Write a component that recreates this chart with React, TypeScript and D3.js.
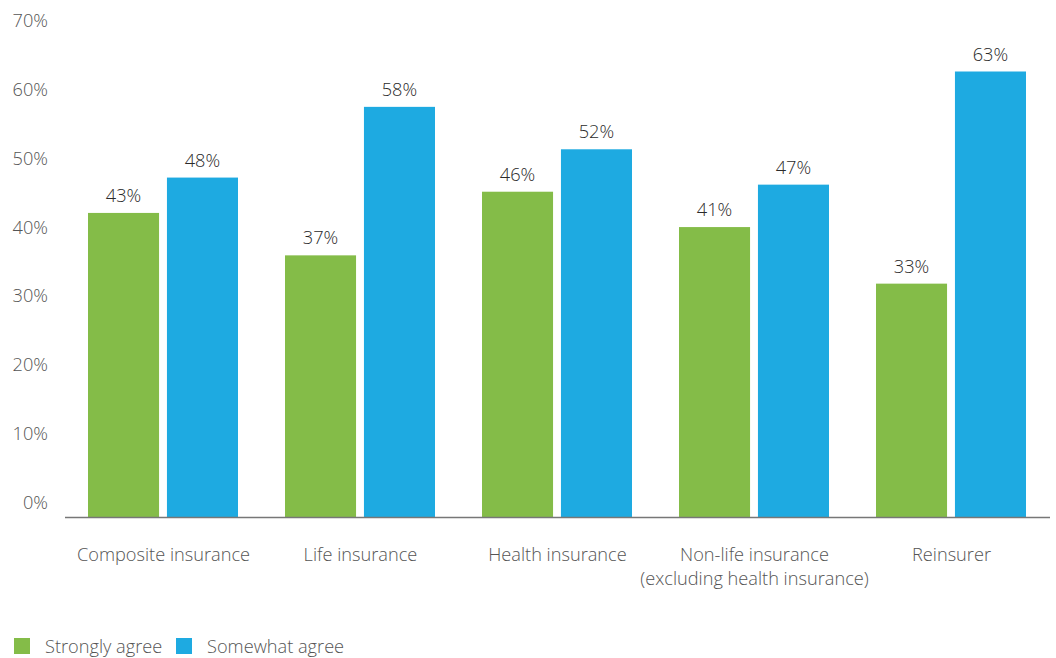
import React from "react";
import * as d3 from "d3";

const categories: string[][] = [
  ["Composite insurance"],
  ["Life insurance"],
  ["Health insurance"],
  ["Non-life insurance", "(excluding health insurance)"],
  ["Reinsurer"],
];
const seriesNames = ["Strongly agree", "Somewhat agree"];
const stronglyAgree = [43, 37, 46, 41, 33];
const somewhatAgree = [48, 58, 52, 47, 63];
const yTicks = [0, 10, 20, 30, 40, 50, 60, 70];
const colors = ["#84bc48", "#1eaae1"];

const W = 1056;
const H = 658;
const FONT = "'Open Sans', 'Noto Sans', sans-serif";
const FS = 18.2;

export default function App() {
  const x0 = d3
    .scaleBand<number>()
    .domain(categories.map((_, i) => i))
    .range([65, 1050])
    .paddingInner(0)
    .paddingOuter(0);
  const x1 = d3
    .scaleBand<number>()
    .domain([0, 1])
    .range([23, x0.bandwidth() - 24])
    .paddingInner(0.1);
  const y = d3.scaleLinear().domain([0, 70]).range([517, 22]);
  const yLabel = d3.scaleLinear().domain([0, 70]).range([502, 20]);
  const series = [stronglyAgree, somewhatAgree];

  return (
    <svg
      width={W}
      height={H}
      style={{ position: "absolute", left: 0, top: 0, background: "#fff" }}
      fontFamily={FONT}
      fontWeight={300}
    >
      {yTicks.map((t) => (
        <text
          key={t}
          x={48}
          y={yLabel(t)}
          textAnchor="end"
          dominantBaseline="central"
          fontSize={FS}
          fill="#555"
        >
          {t}%
        </text>
      ))}
      {categories.map((cat, i) => (
        <g key={i} transform={`translate(${x0(i)},0)`}>
          {series.map((s, j) => (
            <g key={j}>
              <rect
                x={x1(j)}
                y={y(s[i])}
                width={x1.bandwidth()}
                height={y(0) - y(s[i])}
                fill={colors[j]}
              />
              <text
                x={(x1(j) as number) + x1.bandwidth() / 2}
                y={y(s[i]) - 11}
                textAnchor="middle"
                fontSize={FS}
                fill="#2a2a2a"
              >
                {s[i]}%
              </text>
            </g>
          ))}
          {cat.map((line, k) => (
            <text
              key={k}
              x={x0.bandwidth() / 2}
              y={561 + k * 24}
              textAnchor="middle"
              fontSize={FS}
              fill="#555"
            >
              {line}
            </text>
          ))}
        </g>
      ))}
      <line x1={65} x2={1050} y1={517.5} y2={517.5} stroke="#777" strokeWidth={1.5} />
      <g>
        {seriesNames.map((name, j) => {
          const lx = j === 0 ? 14 : 176;
          return (
            <g key={name}>
              <rect x={lx} y={638} width={16} height={16} fill={colors[j]} />
              <text x={lx + 31} y={653} fontSize={FS} fill="#555">
                {name}
              </text>
            </g>
          );
        })}
      </g>
    </svg>
  );
}
